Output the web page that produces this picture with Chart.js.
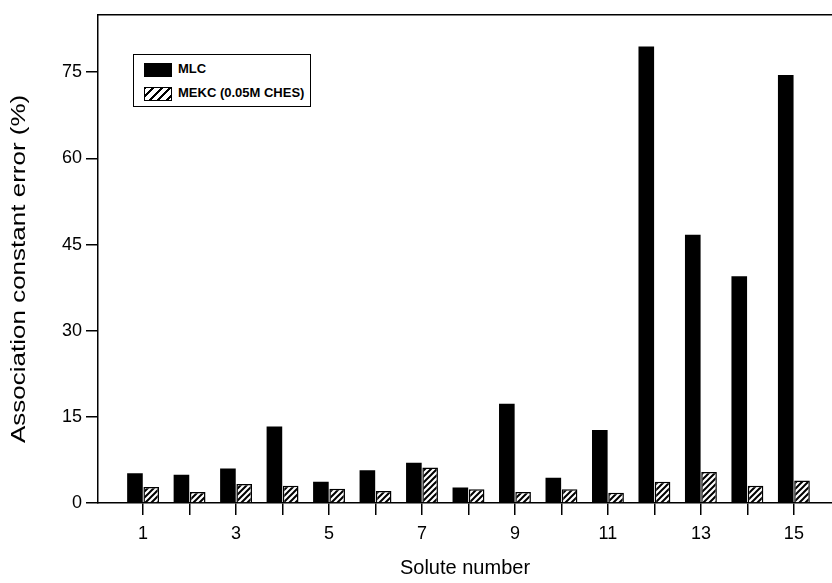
<!DOCTYPE html>
<html><head><meta charset="utf-8">
<script src="https://cdn.jsdelivr.net/npm/chart.js@4/dist/chart.umd.min.js"></script>
<style>
html,body{margin:0;padding:0;background:#fff;overflow:hidden}
#wrap{position:relative;width:832px;height:583px}
#legend{position:absolute;left:133px;top:54px;width:178px;height:53px;border:1.5px solid #000;background:#fff;
 font:bold 13px "Liberation Sans",Arial,sans-serif;color:#000;box-sizing:border-box}
.item{position:absolute;left:10px;height:15px;line-height:15px;white-space:nowrap}
.sw{display:inline-block;width:28px;height:14px;vertical-align:middle;margin-right:6px;box-sizing:border-box}
.solid{background:#000}
.hatch{border:1.5px solid #000;background:repeating-linear-gradient(-45deg,#fff 0 2px,#000 2px 4px,#fff 4px 6px)}
</style></head>
<body>
<div id="wrap">
<canvas id="c" width="832" height="583"></canvas>
<div id="legend">
 <div class="item" style="top:6px"><span class="sw solid"></span>MLC</div>
 <div class="item" style="top:30px"><span class="sw hatch"></span>MEKC (0.05M CHES)</div>
</div>
</div>
<script>
const solutes = [1,2,3,4,5,6,7,8,9,10,11,12,13,14,15];
const mlcErr  = [5.2,4.9,6.0,13.3,3.7,5.7,7.0,2.7,17.3,4.4,12.7,79.5,46.7,39.5,74.5];
const mekcErr = [2.8,1.9,3.3,3.0,2.5,2.1,6.2,2.4,1.9,2.4,1.8,3.7,5.4,3.0,3.9];
const yTicks  = [0,15,30,45,60,75];
const seriesNames = ['MLC','MEKC (0.05M CHES)'];

function hatchPattern(){
  const s=6, cv=document.createElement('canvas'); cv.width=s; cv.height=s;
  const g=cv.getContext('2d'); g.fillStyle='#fff'; g.fillRect(0,0,s,s);
  g.strokeStyle='#000'; g.lineWidth=2;
  g.beginPath(); g.moveTo(-1,s+1); g.lineTo(s+1,-1); g.moveTo(-1,1); g.lineTo(1,-1); g.moveTo(s-1,s+1); g.lineTo(s+1,s-1); g.stroke();
  return g.createPattern(cv,'repeat');
}
const tickFont = {family:'"Liberation Sans", Arial, sans-serif', size:18};
const titleFont = {family:'"Liberation Sans", Arial, sans-serif', size:20};
const frame = {id:'frame',
  beforeDraw(ch){
    const ys = ch.scales.y;
    if (ys && !ys._stretched){
      const orig = ys.drawTitle.bind(ys);
      ys.drawTitle = function(){
        const c = ch.ctx, a = ch.chartArea, cy = (a.top + a.bottom) / 2;
        c.save(); c.translate(0, cy + 10); c.scale(1, 1.3); c.translate(0, -cy);
        orig(); c.restore();
      };
      ys._stretched = true;
    }
  },
  afterDraw(ch){const a=ch.chartArea,c=ch.ctx;c.save();c.strokeStyle='#000';c.lineWidth=1.5;
  c.beginPath();c.moveTo(a.left,a.top);c.lineTo(a.right,a.top);c.stroke();c.restore();}};

new Chart(document.getElementById('c'),{
  type:'bar',
  data:{datasets:[
    {label:seriesNames[0],data:solutes.map((s,i)=>({x:s,y:mlcErr[i]})),backgroundColor:'#000',borderColor:'#000',borderWidth:0},
    {label:seriesNames[1],data:solutes.map((s,i)=>({x:s,y:mekcErr[i]})),backgroundColor:hatchPattern(),borderColor:'#000',borderWidth:1.5}
  ]},
  options:{
    responsive:false,animation:false,
    categoryPercentage:0.7,barPercentage:0.96,
    layout:{padding:{top:14,left:0,right:0,bottom:0}},
    plugins:{legend:{display:false},tooltip:{enabled:false}},
    scales:{
      x:{type:'linear',min:0.03,max:15.82,offset:false,
        afterFit(s){s.height=80;},
        border:{display:true,color:'#000',width:1.5},
        grid:{drawOnChartArea:false,offset:false,color:'#000',lineWidth:1.5,tickLength:12},
        ticks:{stepSize:1,includeBounds:false,color:'#000',font:tickFont,padding:8,maxRotation:0,autoSkip:false,
          callback:v=>(Number.isInteger(v)&&v%2===1)?String(v):''},
        title:{display:true,text:'Solute number',color:'#000',font:titleFont,padding:{top:4,bottom:3}}
      },
      y:{min:0,max:85,
        afterFit(s){s.width=98;},
        afterBuildTicks(s){s.ticks=yTicks.map(v=>({value:v}));},
        border:{display:true,color:'#000',width:1.5},
        grid:{drawOnChartArea:false,color:'#000',lineWidth:1.5,tickLength:12},
        ticks:{color:'#000',font:tickFont,padding:4},
        title:{display:true,text:'Association constant error (%)',color:'#000',font:titleFont,padding:{top:7,bottom:4}}
      }
    }
  },
  plugins:[frame]
});
</script>
</body></html>
